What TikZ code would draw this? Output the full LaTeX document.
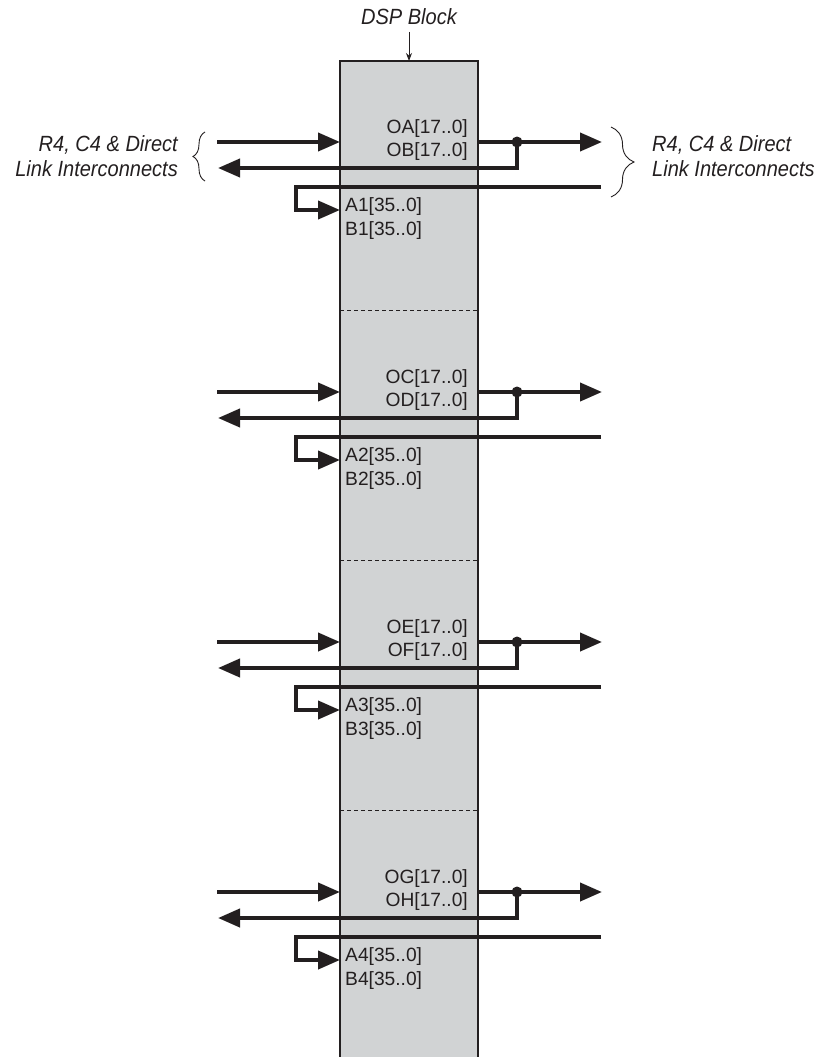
\documentclass[tikz,border=0pt]{standalone}
\usepackage{fontspec}
\setmainfont{Liberation Sans}
\newfontfamily\lblfont{Liberation Sans}
\newfontfamily\sidefont[FakeStretch=0.91]{Liberation Sans}
\usetikzlibrary{arrows.meta,decorations.pathreplacing}
\definecolor{ink}{HTML}{231F20}
\definecolor{blockgray}{HTML}{D1D3D4}
\begin{document}
\begin{tikzpicture}[x=1pt,y=-1pt,
  bus/.style={line width=4pt, draw=ink},
  busarrow/.style={bus, -{Triangle[length=22pt,width=18pt]}},
  port/.style={font=\lblfont\fontsize{19.2}{22}\selectfont, text=ink, inner sep=0pt},
  side/.style={font=\sidefont\itshape\fontsize{22}{26}\selectfont, text=ink, inner sep=0pt},
  junction/.style={circle, fill=ink, minimum size=11pt, inner sep=0pt},
  bracestyle/.style={draw=ink, line width=0.9pt, decorate},
]
\useasboundingbox (0,0) rectangle (824,1057);
% DSP block (open at the bottom)
\fill[blockgray] (340,61) rectangle (478,1057);
\draw[ink, line width=1.3pt] (340,1057) -- (340,61) -- (478,61) -- (478,1057);
\foreach \y in {310,560,810}
  \draw[ink, line width=0.8pt, dash pattern=on 4pt off 3pt] (340,\y) -- (478,\y);
% title
\node[side, anchor=base] (dsp) at (409,25) {DSP Block};
\coordinate (dsptop) at (409,32);
\coordinate (blocktop) at (409,61);
\draw[ink, line width=0.9pt, -{Stealth[length=8pt,width=6pt]}] (dsptop) -- (blocktop);
% sections
\foreach \k/\oa/\ob/\n in {0/A/B/1, 1/C/D/2, 2/E/F/3, 3/G/H/4} {
  \pgfmathsetmacro{\d}{250*\k}
  \node[port, anchor=base east] (o\oa) at (468,133.5+\d) {O\oa[17..0]};
  \node[port, anchor=base east] (o\ob) at (468,156.5+\d) {O\ob[17..0]};
  \node[port, anchor=base west] (a\n) at (345,211.5+\d) {A\n[35..0]};
  \node[port, anchor=base west] (b\n) at (345,235+\d) {B\n[35..0]};
  \coordinate (inS\n) at (217,142+\d);
  \coordinate (inE\n) at (340,142+\d);
  \coordinate (outS\n) at (478,142+\d);
  \coordinate (outE\n) at (602,142+\d);
  \node[junction] (dot\n) at (517,142+\d) {};
  \coordinate (fbC\n) at (517,168+\d);
  \coordinate (fbE\n) at (218,168+\d);
  \coordinate (cS\n) at (601,187+\d);
  \coordinate (cC1\n) at (296,187+\d);
  \coordinate (cC2\n) at (296,210+\d);
  \coordinate (cE\n) at (340,210+\d);
  \draw[busarrow] (inS\n) -- (inE\n);
  \draw[busarrow] (outS\n) -- (outE\n);
  \draw[busarrow] (dot\n.center) -- (fbC\n) -- (fbE\n);
  \draw[busarrow] (cS\n) -- (cC1\n) -- (cC2\n) -- (cE\n);
}
% side labels and braces
\node[side, anchor=base east] (l1) at (178,151) {R4, C4 \& Direct};
\node[side, anchor=base east] (l2) at (178,176.5) {Link Interconnects};
\node[side, anchor=base west] (r1) at (652,151) {R4, C4 \& Direct};
\node[side, anchor=base west] (r2) at (652,176.5) {Link Interconnects};
\draw[bracestyle, decoration={brace, amplitude=12pt}] (205,181) -- (205,132);
\draw[bracestyle, decoration={brace, amplitude=23pt}] (611,127) -- (611,197);
\end{tikzpicture}
\end{document}
